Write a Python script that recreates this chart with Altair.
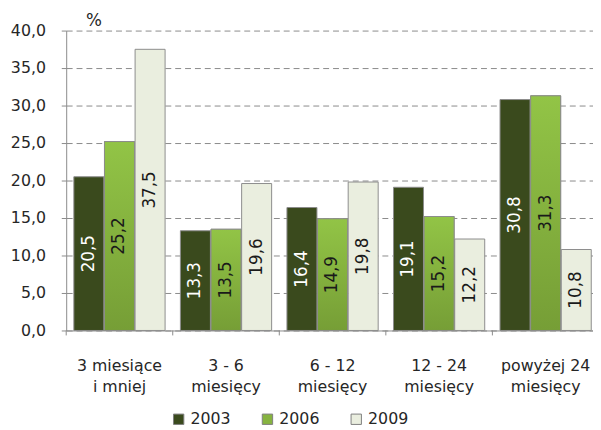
import altair as alt
import pandas as pd

categories = ["3 miesiące|i mniej", "3 - 6|miesięcy", "6 - 12|miesięcy",
              "12 - 24|miesięcy", "powyżej 24|miesięcy"]
years = ["2003", "2006", "2009"]
v2003 = [20.5, 13.3, 16.4, 19.1, 30.8]
v2006 = [25.2, 13.5, 14.9, 15.2, 31.3]
v2009 = [37.5, 19.6, 19.8, 12.2, 10.8]
y_ticks = [0, 5, 10, 15, 20, 25, 30, 35, 40]
colors = ["#3a4a1d", "#86b340", "#eaeedf"]

rows = []
for yr, vals in zip(years, [v2003, v2006, v2009]):
    for c, v in zip(categories, vals):
        rows.append({"cat": c, "year": yr, "value": v})
df = pd.DataFrame(rows)
cat_df = pd.DataFrame({"cat": categories})

FONT = "DejaVu Sans"
TXT = "#262626"
GRAY = "#8a8a8a"
H = 304

x_scale = alt.Scale(range=[0, 540], paddingInner=0, paddingOuter=0)
x_axis = alt.Axis(labelAngle=0, labelExpr="split(datum.value, '|')",
                  labelFont=FONT, labelFontSize=16, labelColor=TXT,
                  labelLineHeight=21, labelPadding=28, ticks=False,
                  domainColor=GRAY, grid=False)
xo_scale = alt.Scale(paddingInner=0.02, paddingOuter=0.25)
y_scale = alt.Scale(domain=[0, 40], nice=False)
y_axis = alt.Axis(values=y_ticks, tickCount=9, labelOverlap=False,
                  labelExpr="replace(format(datum.value, '.1f'), '.', ',')",
                  labelFont=FONT, labelFontSize=16, labelColor=TXT,
                  labelPadding=16, tickSize=5, tickColor=GRAY,
                  domainColor=GRAY, gridColor=GRAY, gridDash=[6, 4],
                  gridWidth=1)


def X(**kw):
    return alt.X("cat:N", sort=categories, title=None, scale=x_scale, axis=x_axis, **kw)


def XO():
    return alt.XOffset("year:N", sort=years, scale=xo_scale)


def Y(field):
    return alt.Y(field, title=None, scale=y_scale, axis=y_axis)


bars = alt.Chart(df).mark_bar(stroke="#8c8c8c", strokeWidth=1).encode(
    x=X(), xOffset=XO(), y=Y("value:Q"),
    color=alt.Color("year:N", sort=years,
                    scale=alt.Scale(domain=years, range=colors),
                    legend=alt.Legend(title=None, orient="none", direction="horizontal",
                                      legendX=106, legendY=386, padding=0,
                                      symbolType="square", symbolSize=110,
                                      symbolStrokeColor="#7f7f7f", symbolStrokeWidth=1,
                                      labelFont=FONT, labelFontSize=16, labelColor=TXT,
                                      labelOffset=4, columnPadding=29))
)

grad = alt.Gradient(gradient="linear", x1=0, x2=0, y1=0, y2=1,
                    stops=[alt.GradientStop(color="#92c446", offset=0),
                           alt.GradientStop(color="#769e36", offset=1)])
bars06 = alt.Chart(df).transform_filter(alt.datum.year == "2006").mark_bar(
    color=grad, stroke="#8c8c8c", strokeWidth=1).encode(
    x=X(), xOffset=XO(), y=Y("value:Q"))

labels = alt.Chart(df).transform_calculate(
    mid="datum.value / 2",
    lab="replace(format(datum.value, '.1f'), '.', ',')",
    tc="datum.year == '2003' ? '#ffffff' : '#1a1a1a'"
).mark_text(angle=270, font=FONT, fontSize=17, align="center", baseline="middle").encode(
    x=X(), xOffset=XO(), y=Y("mid:Q"), text="lab:N",
    fill=alt.Fill("tc:N", scale=None))

ticks = alt.Chart(cat_df).mark_rule(color=GRAY, strokeWidth=1).encode(
    x=X(bandPosition=0), y=alt.value(H), y2=alt.value(H + 5))

pct = alt.Chart(pd.DataFrame({"t": ["%"]})).mark_text(
    font=FONT, fontSize=17, align="left", baseline="middle", color=TXT).encode(
    x=alt.value(20), y=alt.value(-10), text="t:N")

chart = alt.layer(bars, bars06, labels, ticks, pct).properties(
    width=534, height=H,
    autosize=alt.AutoSizeParams(type="none"),
    padding={"left": 59, "top": 20, "right": 0, "bottom": 98},
).configure_view(stroke=None)

chart.save("out.html", embed_options={"renderer": "svg", "actions": False})
